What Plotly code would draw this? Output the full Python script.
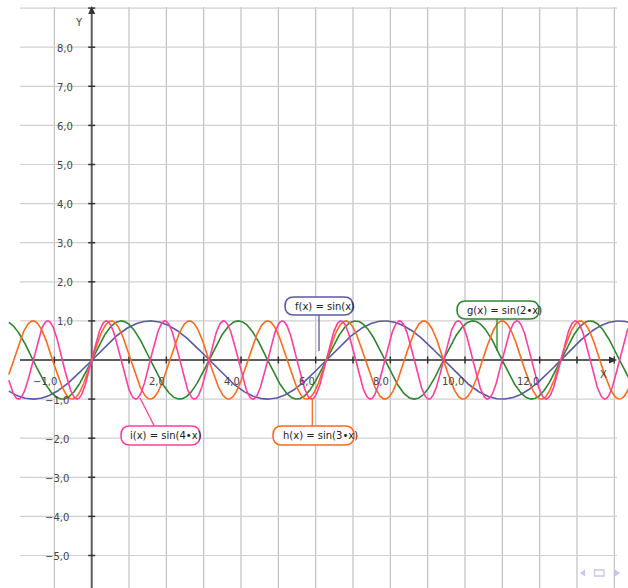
import numpy as np
import plotly.graph_objects as go

# ---------------- data ----------------
func_names = ["f", "g", "h", "i"]
func_mult = [1, 2, 3, 4]
func_labels = ["f(x) = sin(x)", "g(x) = sin(2•x)", "h(x) = sin(3•x)", "i(x) = sin(4•x)"]
func_colors = ["#5a5aa2", "#2f852f", "#ff6a1c", "#ff3fa0"]
x_tick_vals = [-1, 2, 4, 6, 8, 10, 12]
x_tick_text = ["−1,0", "2,0", "4,0", "6,0", "8,0", "10,0", "12,0"]
y_tick_vals = [8, 7, 6, 5, 4, 3, 2, 1, -1, -2, -3, -4, -5]
y_tick_text = ["8,0", "7,0", "6,0", "5,0", "4,0", "3,0", "2,0", "1,0",
               "−1,0", "−2,0", "−3,0", "−4,0", "−5,0"]
x_grid = list(range(-1, 15))
y_grid = list(range(-5, 10))
x_start, x_end = -2.22, 14.5

# ---------------- geometry ----------------
W, H = 628, 588
OX, OY = 91.7, 360.0
SX, SY = 37.33, 39.1
xr = [-OX / SX, (W - OX) / SX]
yr = [-(H - OY) / SY, OY / SY]


def X(px):
    return (px - OX) / SX


def Y(py):
    return (OY - py) / SY


def rrect(l, t, r, b, rad):
    p = []
    p.append(f"M {X(l+rad)},{Y(t)}")
    p.append(f"L {X(r-rad)},{Y(t)}")
    p.append(f"Q {X(r)},{Y(t)} {X(r)},{Y(t+rad)}")
    p.append(f"L {X(r)},{Y(b-rad)}")
    p.append(f"Q {X(r)},{Y(b)} {X(r-rad)},{Y(b)}")
    p.append(f"L {X(l+rad)},{Y(b)}")
    p.append(f"Q {X(l)},{Y(b)} {X(l)},{Y(b-rad)}")
    p.append(f"L {X(l)},{Y(t+rad)}")
    p.append(f"Q {X(l)},{Y(t)} {X(l+rad)},{Y(t)}")
    p.append("Z")
    return " ".join(p)


def tri(pts):
    return "M " + " L ".join(f"{X(a)},{Y(b)}" for a, b in pts) + " Z"


fig = go.Figure()
shapes = []
annotations = []

# grid
for gx in x_grid:
    shapes.append(dict(type="line", xref="x", yref="y", x0=gx, x1=gx, y0=Y(7), y1=yr[0],
                       line=dict(color="#c0c0c0", width=1.2), layer="below"))
for gy in y_grid:
    shapes.append(dict(type="line", xref="x", yref="y", x0=X(20), x1=X(617), y0=gy, y1=gy,
                       line=dict(color="#d0d0d0", width=1.2), layer="below"))

# axes
shapes.append(dict(type="line", xref="x", yref="y", x0=X(20), x1=X(611), y0=0, y1=0,
                   line=dict(color="#5e5e5e", width=2), layer="below"))
shapes.append(dict(type="line", xref="x", yref="y", x0=0, x1=0, y0=yr[0], y1=Y(12),
                   line=dict(color="#5e5e5e", width=2), layer="below"))
shapes.append(dict(type="path", xref="x", yref="y",
                   path=tri([(617, OY), (609, OY - 3.5), (609, OY + 3.5)]),
                   fillcolor="#333333", line=dict(width=0), layer="below"))
shapes.append(dict(type="path", xref="x", yref="y",
                   path=tri([(OX, 6), (OX - 3.5, 14), (OX + 3.5, 14)]),
                   fillcolor="#333333", line=dict(width=0), layer="below"))

# tick marks
fig.add_trace(go.Scatter(x=[g for g in x_grid if g != 0], y=[0] * (len(x_grid) - 1), mode="markers",
                         marker=dict(symbol="line-ns", size=5, line=dict(color="#333", width=1.5)),
                         hoverinfo="skip", showlegend=False))
fig.add_trace(go.Scatter(x=[0] * (len(y_grid) - 1), y=[g for g in y_grid if g != 0], mode="markers",
                         marker=dict(symbol="line-ew", size=5, line=dict(color="#333", width=1.5)),
                         hoverinfo="skip", showlegend=False))

# curves
xs = np.linspace(x_start, x_end, 1500)
for name, k, col in zip(func_names, func_mult, func_colors):
    fig.add_trace(go.Scatter(x=xs, y=np.sin(k * xs), mode="lines", name=name,
                             line=dict(color=col, width=1.6), hoverinfo="skip", showlegend=False))

# tick labels
font = dict(family="DejaVu Sans", size=10, color="#444444")
for v, t in zip(x_tick_vals, x_tick_text):
    shift = 5 if v < 0 else 1
    annotations.append(dict(x=v, y=0, xref="x", yref="y", text=t, showarrow=False,
                            xanchor="right", yanchor="middle", xshift=shift, yshift=-21, font=font))
for v, t in zip(y_tick_vals, y_tick_text):
    if v > 0:
        annotations.append(dict(x=X(55), y=v, xref="x", yref="y", text=t, showarrow=False,
                                xanchor="left", yanchor="middle", yshift=-1, font=font))
    else:
        annotations.append(dict(x=X(71), y=v, xref="x", yref="y", text=t, showarrow=False,
                                xanchor="right", yanchor="middle", yshift=-1, font=font))
annotations.append(dict(x=X(603), y=Y(374), xref="x", yref="y", text="X", showarrow=False,
                        xanchor="center", yanchor="middle", font=font))
annotations.append(dict(x=X(79), y=Y(22), xref="x", yref="y", text="Y", showarrow=False,
                        xanchor="center", yanchor="middle", font=font))

# function label boxes (pixel positions of boxes and connectors)
boxes = [
    (285, 297, 353, 315, 293, (319, 315, 319, 351)),
    (457, 301, 539, 319, 465, (497, 319, 497, 351)),
    (273, 426, 354, 445, 281, (312.3, 398, 312.3, 426)),
    (121, 426, 200, 445, 128, (140, 398, 154.3, 426)),
]
for (l, t, r, b, tx, con), lab, col in zip(boxes, func_labels, func_colors):
    shapes.append(dict(type="line", xref="x", yref="y", x0=X(con[0]), y0=Y(con[1]),
                       x1=X(con[2]), y1=Y(con[3]), line=dict(color=col, width=1.3), layer="above"))
    shapes.append(dict(type="path", xref="x", yref="y", path=rrect(l, t, r, b, 9),
                       fillcolor="white", line=dict(color=col, width=1.6), layer="above"))
    annotations.append(dict(x=X(tx), y=Y((t + b) / 2), xref="x", yref="y", text=lab,
                            showarrow=False, xanchor="left", yanchor="middle",
                            font=dict(family="DejaVu Sans", size=10, color="#222222")))

# navigation icons
nav = "#c6c6ee"
shapes.append(dict(type="path", xref="x", yref="y",
                   path=tri([(580, 573), (585, 569.5), (585, 576.5)]),
                   fillcolor=nav, line=dict(width=0)))
shapes.append(dict(type="path", xref="x", yref="y",
                   path=tri([(620, 573), (615, 569.5), (615, 576.5)]),
                   fillcolor=nav, line=dict(width=0)))
shapes.append(dict(type="rect", xref="x", yref="y", x0=X(594.5), x1=X(604), y0=Y(570), y1=Y(576),
                   fillcolor="rgba(0,0,0,0)", line=dict(color=nav, width=1.3)))

fig.update_layout(
    width=W, height=H, margin=dict(l=0, r=0, t=0, b=0),
    paper_bgcolor="white", plot_bgcolor="white",
    xaxis=dict(range=xr, showgrid=False, zeroline=False, showticklabels=False,
               showline=False, ticks="", fixedrange=True),
    yaxis=dict(range=yr, showgrid=False, zeroline=False, showticklabels=False,
               showline=False, ticks="", fixedrange=True),
    shapes=shapes, annotations=annotations, showlegend=False,
)

fig.write_html("out.html")
